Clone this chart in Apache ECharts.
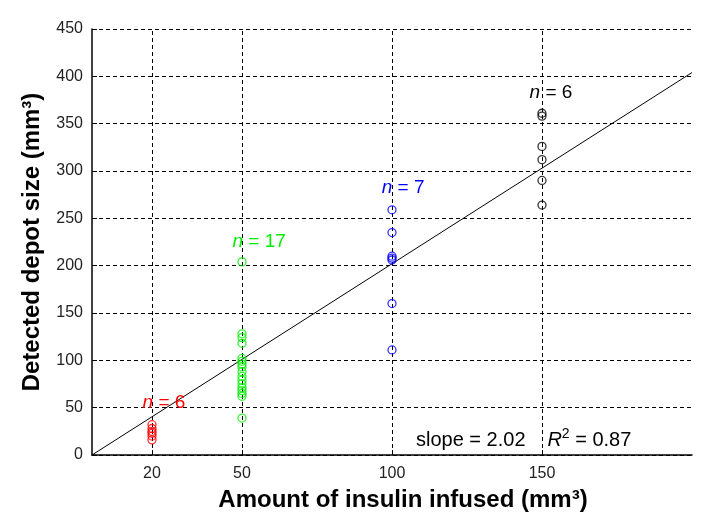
<!DOCTYPE html>
<html><head><meta charset="utf-8">
<script src="https://cdn.jsdelivr.net/npm/echarts@6/dist/echarts.min.js"></script>
<style>html,body{margin:0;padding:0;background:#fff}#c{width:724px;height:528px}</style>
</head><body><div id="c"></div>
<script>
// Data
const xTicks = [20, 50, 100, 150];
const yMax = 450;
const redX = 20;
const redY = [32, 28, 25, 23, 20, 16];
const greenX = 50;
const greenY = [204, 128, 124, 118, 102, 99, 96, 93, 88, 83, 79, 75, 71, 68, 65, 62, 39];
const blueX = 100;
const blueY = [259, 235, 210, 208, 206, 160, 111];
const blackX = 150;
const blackY = [361, 358, 326, 312, 290, 264];
const fitX = [0, 200];
const slope = 2.02;
const r2 = 0.87;

const FONT = '"Liberation Sans", Arial, sans-serif';
function pts(x, ys) { return ys.map(y => [x, y]); }
function scatter(name, x, ys, color, ann) {
  return {
    name, type: 'scatter', data: pts(x, ys), symbol: 'circle', symbolSize: 8,
    itemStyle: { color: 'rgba(0,0,0,0)', borderColor: color, borderWidth: 1.3 },
    z: 5,
    markPoint: {
      symbol: 'circle', symbolSize: 0, silent: true,
      data: [{ coord: ann.coord, value: 0 }],
      label: {
        show: true, position: 'inside', formatter: '{i|n} = ' + ys.length,
        color, fontSize: 19, fontFamily: FONT,
        rich: { i: { fontStyle: 'italic', color, fontSize: 19, fontFamily: FONT } }
      }
    }
  };
}

const chart = echarts.init(document.getElementById('c'), null, { renderer: 'canvas' });
chart.setOption({
  animation: false,
  backgroundColor: '#fff',
  grid: { left: 92, right: 32, top: 29, bottom: 73, containLabel: false },
  xAxis: {
    type: 'value', min: 0, max: 200,
    name: 'Amount of insulin infused (mm³)', nameLocation: 'middle', nameGap: 33,
    nameTextStyle: { fontSize: 24, fontWeight: 'bold', color: '#000', fontFamily: FONT, padding: [0, 0, 0, 22] },
    axisLine: { lineStyle: { color: '#000', width: 1.5 } },
    axisTick: { show: true, inside: true, length: 5, customValues: xTicks, lineStyle: { color: '#000' } },
    axisLabel: { customValues: xTicks, fontSize: 16, color: '#222', fontFamily: FONT, margin: 11 },
    splitLine: { show: false }
  },
  yAxis: {
    type: 'value', min: 0, max: yMax, interval: 50,
    name: 'Detected depot size (mm³)', nameLocation: 'middle', nameGap: 48,
    nameTextStyle: { fontSize: 24, fontWeight: 'bold', color: '#000', fontFamily: FONT },
    axisLine: { show: true, lineStyle: { color: '#000', width: 1.5 } },
    axisTick: { show: true, inside: true, length: 5, lineStyle: { color: '#000' } },
    axisLabel: { fontSize: 16, color: '#222', fontFamily: FONT, margin: 9 },
    splitLine: { show: true, lineStyle: { color: '#000', type: [4, 3], width: 1 } }
  },
  series: [
    {
      name: 'fit', type: 'line', data: fitX.map(x => [x, slope * x]), symbol: 'none',
      lineStyle: { color: '#000', width: 1 }, z: 3, silent: true,
      markLine: {
        silent: true, symbol: 'none', label: { show: false },
        lineStyle: { color: '#000', type: [4, 3], width: 1 },
        data: xTicks.map(v => ({ xAxis: v }))
      },
      markPoint: {
        symbol: 'circle', symbolSize: 0, silent: true,
        data: [
          { coord: [108, 17], value: 0, label: { formatter: '{t|slope = ' + slope.toFixed(2) + '}' } },
          { coord: [151.8, 17], value: 0, label: { formatter: '{i|R}{s|2}{t| = ' + r2.toFixed(2) + '}' } }
        ],
        label: {
          show: true, position: 'right', distance: 0,
          rich: {
            t: { fontSize: 20, color: '#000', fontFamily: FONT, lineHeight: 24, verticalAlign: 'bottom' },
            i: { fontSize: 20, color: '#000', fontFamily: FONT, fontStyle: 'italic', lineHeight: 24, verticalAlign: 'bottom' },
            s: { fontSize: 14, color: '#000', fontFamily: FONT, lineHeight: 24, verticalAlign: 'top' }
          }
        }
      }
    },
    scatter('n20', redX, redY, '#ff0000', { coord: [24, 55] }),
    scatter('n50', greenX, greenY, '#00ee00', { coord: [55.7, 225] }),
    scatter('n100', blueX, blueY, '#0000ff', { coord: [103.7, 282] }),
    scatter('n150', blackX, blackY, '#000000', { coord: [153, 383] })
  ]
});
</script></body></html>
